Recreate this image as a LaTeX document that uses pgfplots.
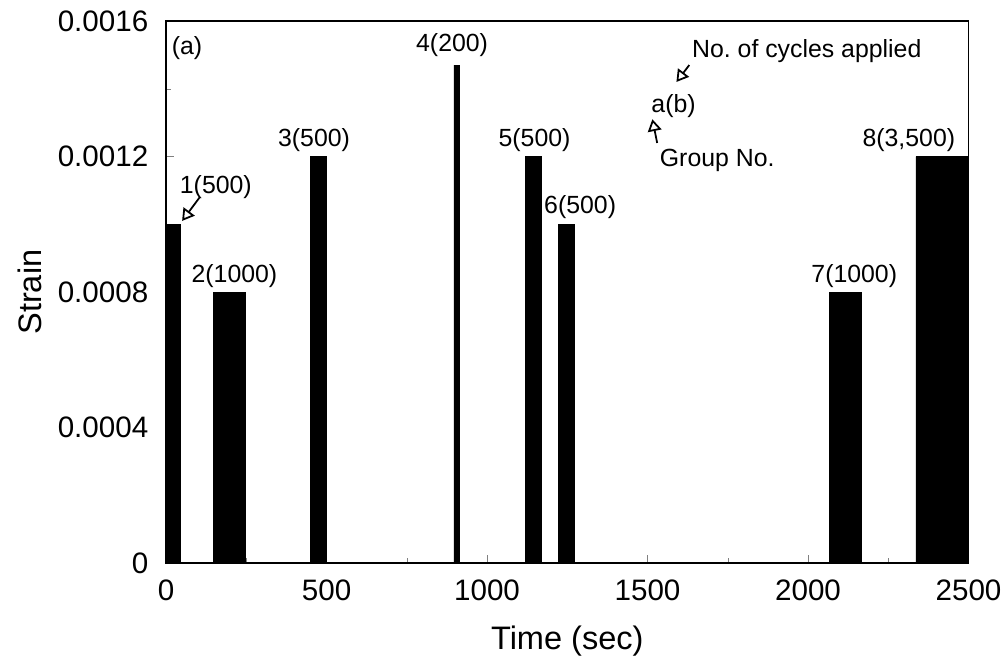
\documentclass[border={6pt 0pt 0pt 2pt}]{standalone}
\usepackage{pgfplots}
\pgfplotsset{compat=1.18}
\usepackage{fontspec}
\setmainfont{Liberation Sans}
\usetikzlibrary{arrows.meta}
\begin{document}
\begin{tikzpicture}
\begin{axis}[
  scale only axis,
  width=407pt, height=275pt,
  xmin=0, xmax=2500, ymin=0, ymax=0.0016,
  xtick={0,500,...,2500},
  ytick={0,0.0004,0.0008,0.0012,0.0016},
  minor xtick={250,750,...,2250},
  minor ytick={0.0002,0.0006,0.001,0.0014},
  tick pos=left, tick align=inside,
  major tick length=4pt, minor tick length=2.5pt,
  scaled y ticks=false,
  yticklabel style={/pgf/number format/fixed,/pgf/number format/precision=4,
    /pgf/number format/assume math mode=true, xshift=-5.5pt},
  xticklabel style={/pgf/number format/assume math mode=true,
    /pgf/number format/1000 sep={}, yshift=-5pt},
  ticklabel style={font=\fontsize{15}{17}\selectfont},
  xlabel={Time (sec)}, ylabel={Strain},
  xlabel style={font=\fontsize{16.5}{19}\selectfont, yshift=-6pt},
  ylabel style={font=\fontsize{16.5}{19}\selectfont, yshift=1pt},
  axis line style={line width=0.9pt},
  clip=false,
]
\addplot[fill=black, draw=black] coordinates {
  (0,0) (0,0.001) (45,0.001) (45,0)
  (148,0) (148,0.0008) (248,0.0008) (248,0)
  (449,0) (449,0.0012) (498,0.0012) (498,0)
  (897,0) (897,0.00147) (913,0.00147) (913,0)
  (1120,0) (1120,0.0012) (1170,0.0012) (1170,0)
  (1222,0) (1222,0.001) (1272,0.001) (1272,0)
  (2067,0) (2067,0.0008) (2166,0.0008) (2166,0)
  (2336,0) (2336,0.0012) (2500,0.0012) (2500,0)
} -- cycle;
\begin{scope}[font=\fontsize{12.6}{15}\selectfont]
\node at (axis cs:65,0.00152) {(a)};
\node at (axis cs:155,0.00111) {1(500)};
\node at (axis cs:213,0.000846) {2(1000)};
\node at (axis cs:461,0.00125) {3(500)};
\node at (axis cs:891,0.00153) {4(200)};
\node at (axis cs:1148,0.00125) {5(500)};
\node at (axis cs:1290,0.00105) {6(500)};
\node at (axis cs:2144,0.000846) {7(1000)};
\node at (axis cs:2314,0.00125) {8(3,500)};
\node at (axis cs:1996,0.00151) {No.\ of cycles applied};
\node at (axis cs:1581,0.00135) {a(b)};
\node at (axis cs:1717,0.00119) {Group No.};
\end{scope}
\draw[line width=0.9pt,-{Triangle[open,length=6pt,width=7pt]}] (axis cs:105,0.00108) -- (axis cs:50,0.00101);
\draw[line width=0.9pt,-{Triangle[open,length=6pt,width=7pt]}] (axis cs:1630,0.00147) -- (axis cs:1590,0.00142);
\draw[line width=0.9pt,-{Triangle[open,length=6pt,width=7pt]}] (axis cs:1530,0.00124) -- (axis cs:1515,0.00131);
\end{axis}
\end{tikzpicture}
\end{document}
